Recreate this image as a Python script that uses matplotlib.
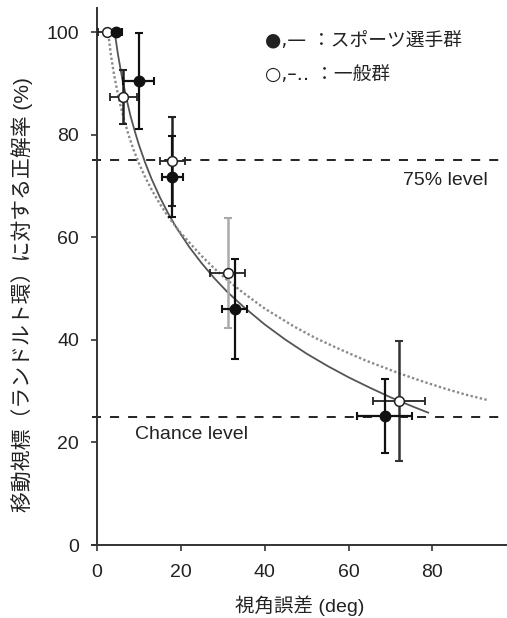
import numpy as np
import matplotlib
matplotlib.use('Agg')
from matplotlib import pyplot as plt

plt.rcParams['font.family'] = ['Liberation Sans', 'Noto Sans CJK JP', 'DejaVu Sans']

# sports group (filled)
sp_x = [4.5, 10.0, 18.0, 32.8, 68.6]
sp_y = [100.0, 90.5, 71.8, 46.0, 25.2]
sp_xerr = [1.4, 3.7, 2.4, 3.0, 6.5]
sp_yerr = [0.0, 9.3, 7.9, 9.8, 7.2]

# general group (open)
ge_x = [2.3, 6.3, 18.0, 31.2, 72.1]
ge_y = [100.0, 87.3, 74.8, 53.1, 28.1]
ge_xerr = [2.0, 3.3, 3.0, 4.2, 6.2]
ge_yerr = [0.0, 5.3, 8.7, 10.7, 11.7]

# fitted curves
sp_fit_x = [4.3, 5, 6, 7, 8, 9, 10, 11.5, 13, 15, 17, 19, 22, 25, 28, 31, 35,
            40, 45, 50, 55, 60, 65, 70, 75, 79]
sp_fit_y = [99.5, 95.6, 91.0, 87.1, 83.6, 80.7, 78.0, 74.5, 71.4, 67.8, 64.6, 61.8,
            58.1, 54.9, 52.0, 49.4, 46.4, 43.0, 40.0, 37.3, 34.9, 32.7, 30.7, 28.8,
            27.1, 25.8]
ge_fit_x = [2.7, 3.3, 4, 4.7, 5.5, 6.5, 7.5, 8.7, 10, 11.5, 13, 15, 17, 19.5, 22,
            25, 28, 31, 35, 40, 47, 52, 57, 64, 72, 78, 83, 88, 93]
ge_fit_y = [99.6, 95.6, 92.0, 89.0, 86.0, 82.8, 80.0, 77.1, 74.4, 71.7, 69.3, 66.5,
            64.0, 61.3, 59.0, 56.3, 53.9, 51.7, 49.1, 46.1, 42.6, 40.4, 38.5, 36.0,
            33.5, 31.8, 30.5, 29.3, 28.3]

levels = [75, 25]
xticks = [0, 20, 40, 60, 80]
yticks = [0, 20, 40, 60, 80, 100]

fig = plt.figure(figsize=(5.07, 6.18), dpi=100)
ax = fig.add_axes([92/507, 73/618, 415/507, 537/618])
ax.set_xlim(-1.2, 97.8)
ax.set_ylim(0, 104.7)

for lv in levels:
    ax.axhline(lv, color='#111', lw=1.3, ls=(0, (5, 5)), zorder=1)

ax.plot(sp_fit_x, sp_fit_y, color='#555', lw=1.3, zorder=2)
ax.plot(ge_fit_x, ge_fit_y, color='#8a8a8a', lw=1.7, ls=(0, (1, 1)), zorder=2)

ge_vcol = ['#222', '#222', '#222', '#aaaaaa', '#333']
for i in range(len(ge_x)):
    ax.errorbar(ge_x[i], ge_y[i], yerr=ge_yerr[i], fmt='none', ecolor=ge_vcol[i],
                elinewidth=1.8, capsize=3, capthick=1.5, zorder=3)
    ax.errorbar(ge_x[i], ge_y[i], xerr=ge_xerr[i], fmt='none', ecolor='#222',
                elinewidth=1.3, capsize=3, capthick=1.3, zorder=3)
ax.errorbar(sp_x, sp_y, xerr=sp_xerr, yerr=sp_yerr, fmt='none', ecolor='#111',
            elinewidth=1.6, capsize=3, capthick=1.5, zorder=4)
ax.plot(ge_x, ge_y, 'o', ms=7, mfc='white', mec='#222', mew=1.1, zorder=5)
ax.plot(sp_x, sp_y, 'o', ms=7.5, mfc='#111', mec='#111', zorder=6)

ax.text(93.3, 71, '75% level', ha='right', va='center', fontsize=14, color='#222')
ax.text(9.1, 21.6, 'Chance level', ha='left', va='center', fontsize=14, color='#222')

leg_font = ['DejaVu Sans', 'Noto Sans CJK JP']
ax.text(40.0, 98.3, '●,— ：スポーツ選手群', ha='left', va='center', fontsize=13.5,
        color='#222', family=leg_font)
ax.text(40.0, 91.6, '○,–‥ ：一般群', ha='left', va='center', fontsize=13.5,
        color='#222', family=leg_font)

ax.spines['right'].set_visible(False)
ax.spines['top'].set_visible(False)
ax.spines['left'].set_position(('data', 0))
for s in ['left', 'bottom']:
    ax.spines[s].set_linewidth(1.4)
    ax.spines[s].set_color('#333')
ax.set_xticks(xticks)
ax.set_yticks(yticks)
ax.tick_params(direction='out', length=4, width=1.2, colors='#333', labelsize=14,
               labelcolor='#222')
ax.tick_params(axis='y', pad=9)
ax.tick_params(axis='x', pad=10)

ax.set_xlabel('視角誤差 (deg)', fontsize=14, color='#222', labelpad=10)
ax.set_ylabel('移動視標（ランドルト環）に対する正解率 (%)', fontsize=15, color='#222')
ax.yaxis.set_label_coords(-0.142, 0.466)

fig.savefig('out.png', dpi=100)
